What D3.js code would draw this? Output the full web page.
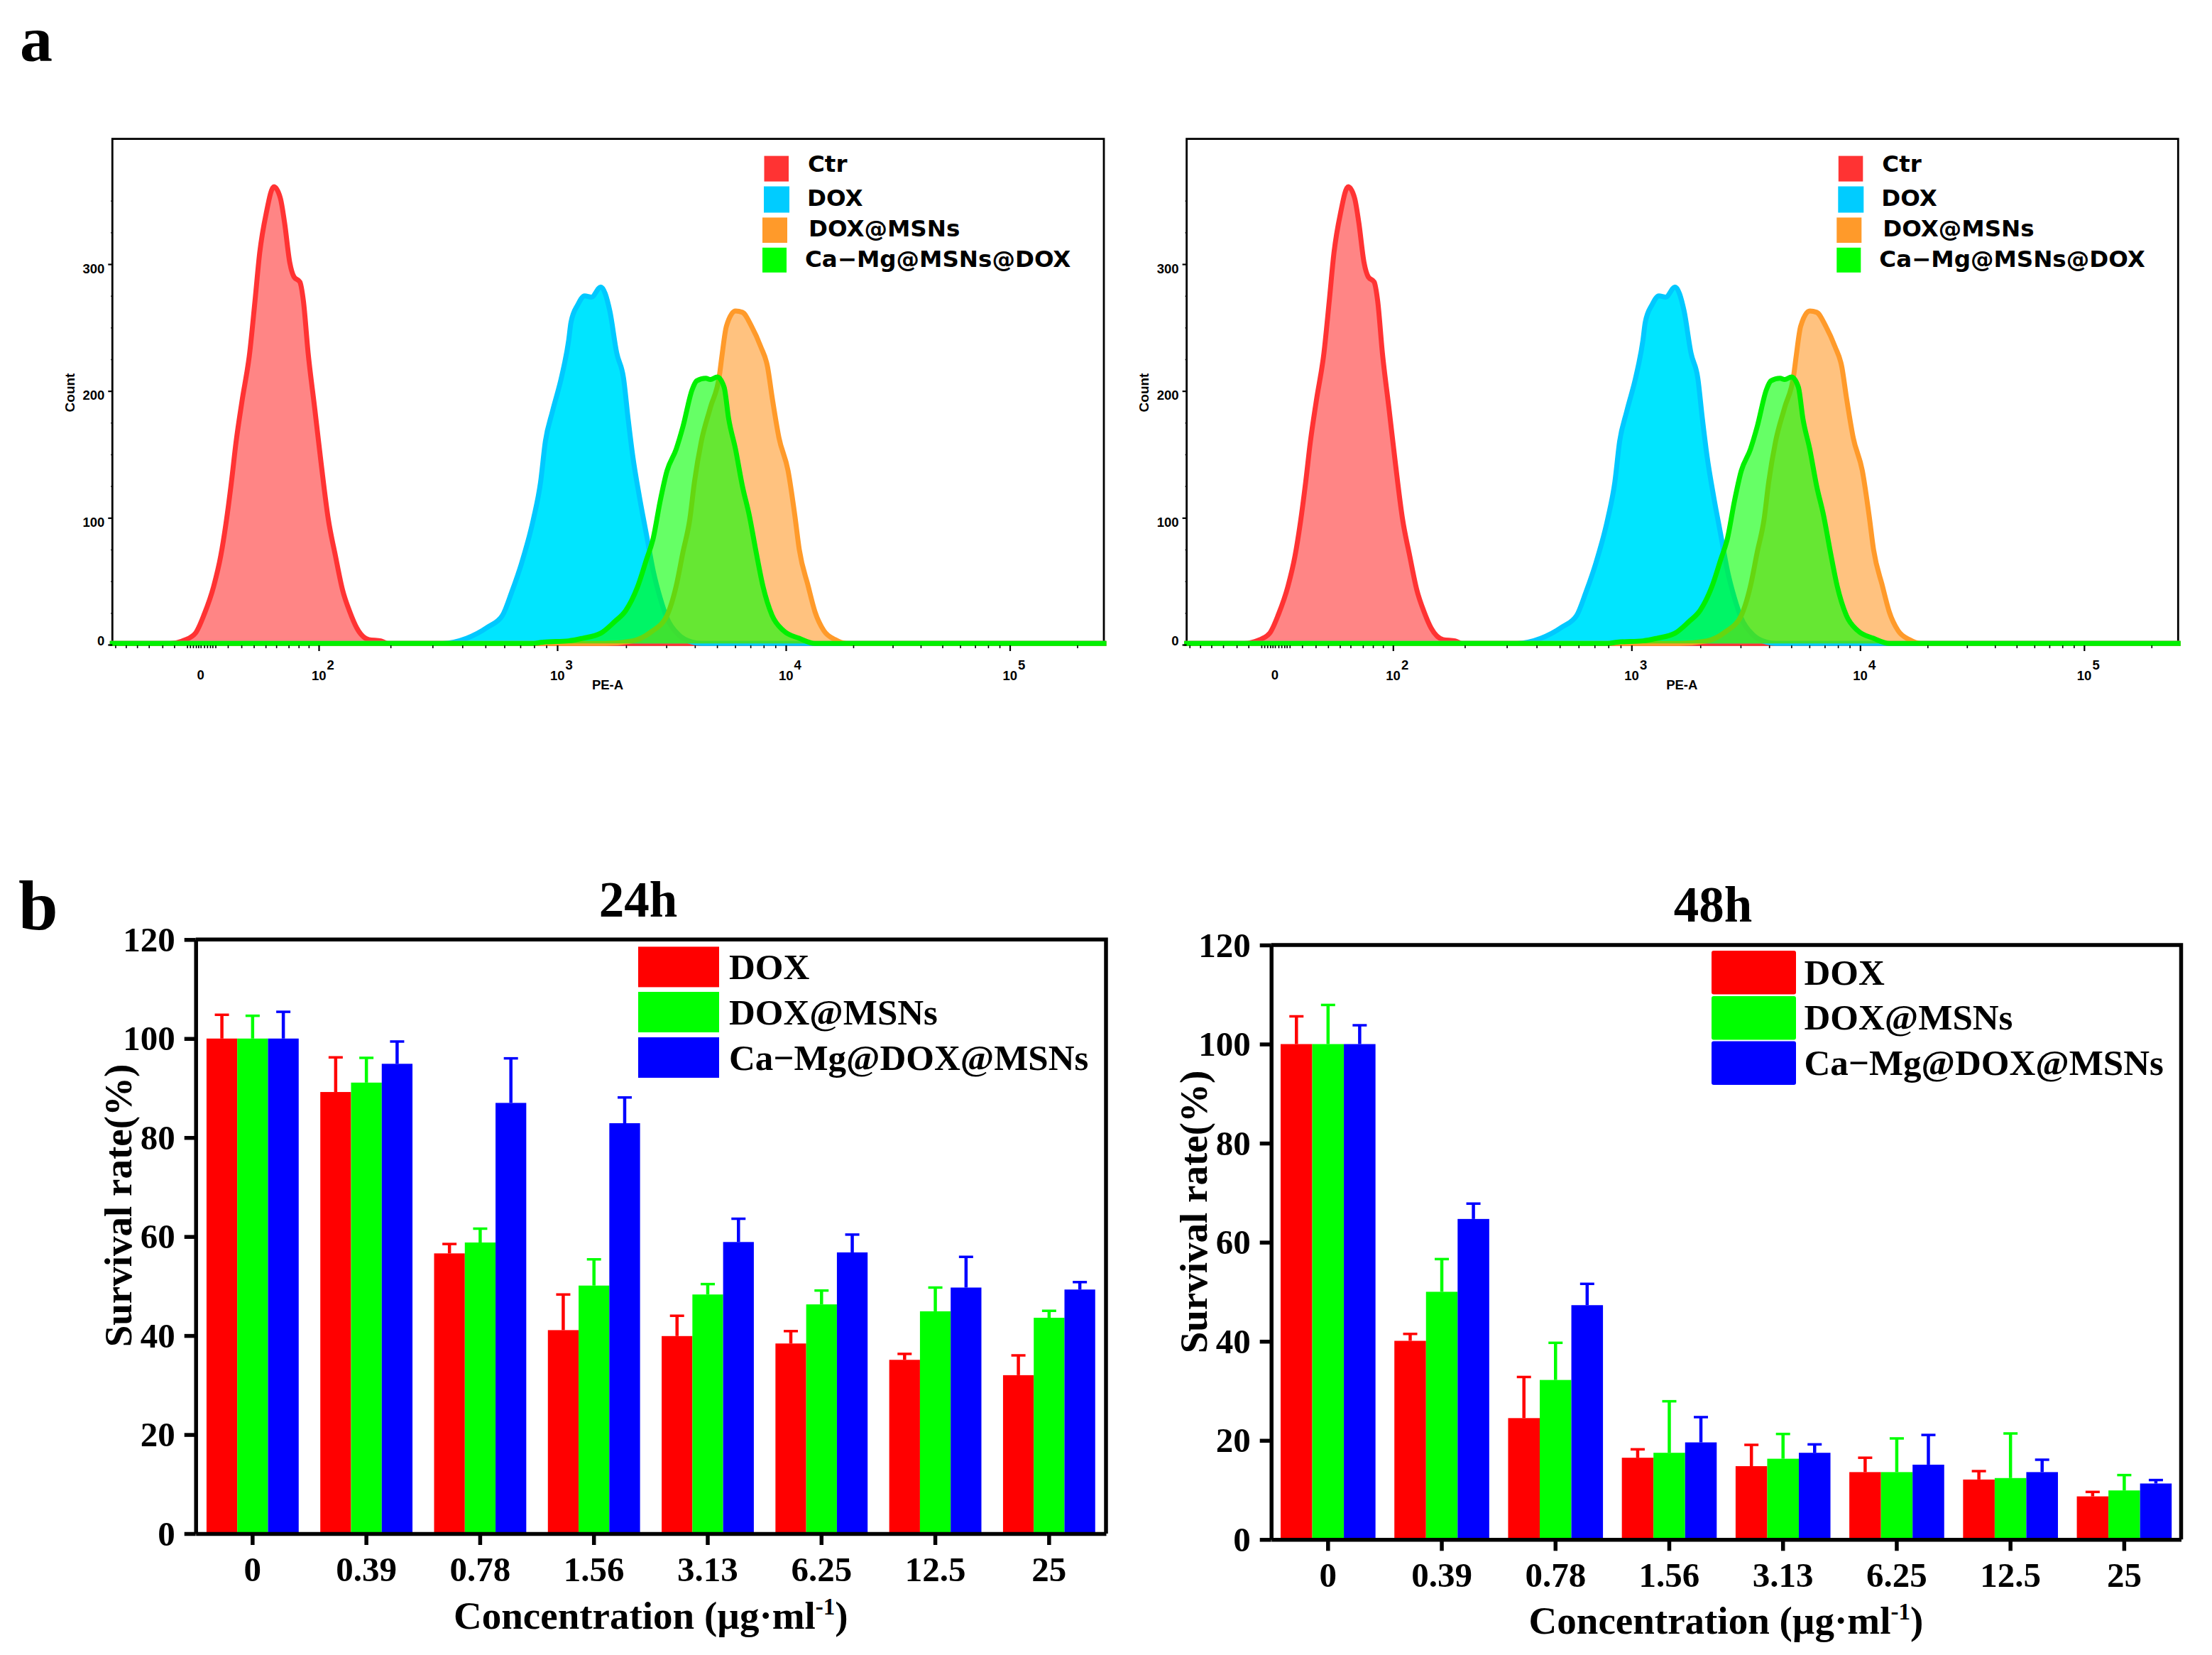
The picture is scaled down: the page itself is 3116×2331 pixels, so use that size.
<!DOCTYPE html>
<html>
<head>
<meta charset="utf-8">
<script src="https://cdn.jsdelivr.net/npm/d3@7"></script>
<style>
    html, body { margin: 0; padding: 0; background: #fff; }
    svg { display: block; }
</style>
</head>
<body>
<svg id="chart" width="3116" height="2331"></svg>
<script>
// flow histograms: [log10 PE-A, count]
const ctrCurve = [[-1.5,1],[-0.52,1],[-0.28,3.5],[-0.09,9],[0.06,24],[0.22,46],[0.34,70],[0.43,96],[0.52,128],[0.6,160],[0.7,192],[0.83,230],[0.92,271],[1,309],[1.11,340],[1.24,361],[1.35,352],[1.42,333],[1.51,301],[1.58,290],[1.68,286],[1.74,271],[1.82,230],[1.93,187],[2.01,143],[2.04,99],[2.07,70],[2.1,43],[2.13,26],[2.16,13],[2.21,4],[2.26,3],[2.29,1],[5.42,1]];
const doxCurve = [[-1.5,1],[2.52,1],[2.62,5],[2.71,14],[2.77,23],[2.81,42],[2.85,64],[2.9,99],[2.93,128],[2.95,160],[2.98,184],[3.02,212],[3.05,240],[3.06,254],[3.09,268],[3.12,275],[3.15,274],[3.19,282],[3.23,263],[3.26,230],[3.29,210],[3.31,178],[3.33,149],[3.36,116],[3.39,87],[3.42,58],[3.45,37],[3.48,21],[3.53,8],[3.59,2],[3.63,1],[5.42,1]];
const msnCurve = [[-1.5,1],[3.21,1],[3.33,3],[3.41,10],[3.48,23],[3.52,46],[3.55,73],[3.58,99],[3.6,128],[3.63,160],[3.67,187],[3.71,213],[3.72,227],[3.74,251],[3.78,263],[3.81,262],[3.85,251],[3.89,235],[3.92,219],[3.94,195],[3.97,163],[4.01,137],[4.04,102],[4.06,75],[4.1,46],[4.13,26],[4.17,11],[4.22,4],[4.27,1],[5.42,1]];
const caMgCurve = [[-1.5,1],[2.9,1],[2.94,2],[3.05,3],[3.11,5],[3.19,9],[3.25,18],[3.3,27],[3.35,45],[3.39,67],[3.42,84],[3.45,113],[3.48,137],[3.52,154],[3.55,172],[3.59,201],[3.61,208],[3.65,210],[3.67,209],[3.7,211],[3.73,203],[3.75,178],[3.78,154],[3.81,125],[3.84,102],[3.87,73],[3.9,46],[3.94,23],[3.99,11],[4.06,5],[4.13,1],[5.42,1]];
const countTicks = [0, 100, 200, 300];
const countMinorTicks = [25, 50, 75, 125, 150, 175, 225, 250, 275, 325, 350];
const peDecades = [2, 3, 4, 5];
const peLowTicks = [-1.45,-1.27,-1.08,-0.88,-0.65,-0.45,-0.23,-0.18,-0.13,-0.08,-0.04,0,0.06,0.11,0.16,0.2,0.25,0.46,0.69,0.9,1.1,1.28,1.49,1.66,1.83];

// viability bars
const concentrations = ['0', '0.39', '0.78', '1.56', '3.13', '6.25', '12.5', '25'];
const survivalTicks = [0, 20, 40, 60, 80, 100, 120];
const barSeriesNames = ['DOX', 'DOX@MSNs', 'Ca\u2212Mg@DOX@MSNs'];
const barColors = ['#ff0000', '#00ff00', '#0000ff'];

const dox24 = [100, 89.2, 56.6, 41.1, 39.9, 38.4, 35.1, 32.0];
const dox24Top = [104.8, 96.2, 58.5, 48.3, 44.0, 40.9, 36.3, 36.0];
const msn24 = [100, 91.1, 58.8, 50.1, 48.3, 46.3, 44.9, 43.6];
const msn24Top = [104.6, 96.1, 61.6, 55.4, 50.4, 49.1, 49.7, 45.0];
const caMg24 = [100, 94.9, 87.0, 82.9, 58.9, 56.8, 49.7, 49.3];
const caMg24Top = [105.4, 99.4, 96.0, 88.1, 63.6, 60.4, 55.9, 50.8];

const dox48 = [100, 40.1, 24.5, 16.5, 14.8, 13.6, 12.1, 8.7];
const dox48Top = [105.6, 41.5, 32.8, 18.2, 19.1, 16.5, 13.8, 9.6];
const msn48 = [100, 50.0, 32.2, 17.5, 16.3, 13.6, 12.4, 9.9];
const msn48Top = [107.9, 56.6, 39.7, 27.9, 21.3, 20.4, 21.4, 13.0];
const caMg48 = [100, 64.7, 47.3, 19.6, 17.5, 15.1, 13.6, 11.3];
const caMg48Top = [103.8, 67.8, 51.6, 24.7, 19.2, 21.1, 16.1, 12.0];

const SANS = '"Liberation Sans", Arial, sans-serif';
const SERIF = '"Liberation Serif", "Times New Roman", serif';
const svg = d3.select('#chart');

function drawHistogram(offsetX) {
    const g = svg.append('g').attr('transform', `translate(${offsetX},0)`);

    // logicle-like axis, piecewise between the decade labels
    const x = d3.scaleLinear()
        .domain([-1.5, 0, 2, 3, 4, 5, 5.42])
        .range([158.3, 282.7, 449, 785, 1107, 1422.5, 1555]);
    const y = d3.scaleLinear().domain([0, 300]).range([908, 372]);

    g.append('rect')
        .attr('x', 158.3).attr('y', 195.6)
        .attr('width', 1555 - 158.3).attr('height', 908 - 195.6)
        .attr('fill', 'none').attr('stroke', '#000').attr('stroke-width', 2.8);

    const series = [
        { curve: ctrCurve, fill: '#ff3333', opacity: 0.6, stroke: '#ff3333' },
        { curve: doxCurve, fill: '#00e5ff', opacity: 1, stroke: '#00c8ff' },
        { curve: msnCurve, fill: '#ff9a2a', opacity: 0.6, stroke: '#ff9a2a' },
        { curve: caMgCurve, fill: '#00ff00', opacity: 0.6, stroke: '#00f000' }
    ];
    const area = d3.area().x(d => x(d[0])).y0(y(1)).y1(d => y(d[1])).curve(d3.curveMonotoneX);
    const line = d3.line().x(d => x(d[0])).y(d => y(d[1])).curve(d3.curveMonotoneX);

    series.forEach(s => {
        g.append('path').attr('d', area(s.curve))
            .attr('fill', s.fill).attr('fill-opacity', s.opacity);
        g.append('path').attr('d', line(s.curve))
            .attr('fill', 'none').attr('stroke', s.stroke)
            .attr('stroke-width', 7).attr('stroke-linejoin', 'round')
            .attr('stroke-linecap', 'square');
    });

    // y axis
    const yMinor = g.append('g').attr('transform', 'translate(158.3,0)')
        .call(d3.axisLeft(y).tickValues(countMinorTicks).tickSize(2).tickFormat(''));
    yMinor.select('.domain').remove();
    yMinor.selectAll('line').attr('stroke-width', 1.5);

    const yAxis = g.append('g').attr('transform', 'translate(158.3,0)')
        .call(d3.axisLeft(y).tickValues(countTicks).tickSize(6));
    yAxis.select('.domain').remove();
    yAxis.selectAll('line').attr('stroke-width', 2.2);
    yAxis.selectAll('text')
        .attr('x', -11).attr('dy', 0)
        .attr('y', d => d === 0 ? 0 : 12)
        .attr('font-family', SANS).attr('font-weight', 'bold').attr('font-size', 18.5);

    g.append('text')
        .attr('transform', 'translate(105,553) rotate(-90)')
        .attr('text-anchor', 'middle')
        .attr('font-family', SANS).attr('font-weight', 'bold').attr('font-size', 19)
        .text('Count');

    // x axis
    const decadeMinor = [];
    peDecades.forEach(d => {
        d3.range(2, 10).forEach(k => {
            const v = d + Math.log10(k);
            if (v < 5.42) decadeMinor.push(v);
        });
    });
    const xMinor = g.append('g').attr('transform', 'translate(0,909)')
        .call(d3.axisBottom(x).tickValues(peLowTicks.concat(decadeMinor)).tickSize(4).tickFormat(''));
    xMinor.select('.domain').remove();
    xMinor.selectAll('line').attr('stroke-width', 1.6);

    const xMajor = g.append('g').attr('transform', 'translate(0,909)')
        .call(d3.axisBottom(x).tickValues(peDecades).tickSize(8).tickFormat(''));
    xMajor.select('.domain').remove();
    xMajor.selectAll('line').attr('stroke-width', 2.2);

    const labelStyle = sel => sel
        .attr('font-family', SANS).attr('font-weight', 'bold').attr('font-size', 18.5);

    g.append('text').attr('x', x(0)).attr('y', 956.7)
        .attr('text-anchor', 'middle').call(labelStyle).text('0');
    peDecades.forEach(d => {
        const t = g.append('text').attr('x', x(d) - 10).attr('y', 957.6).call(labelStyle);
        t.append('tspan').text('10');
        t.append('tspan').attr('dx', 1).attr('dy', -14.5).text(d);
    });
    g.append('text').attr('x', 856).attr('y', 970.7)
        .attr('text-anchor', 'middle').call(labelStyle).text('PE-A');

    // legend
    const legendSwatches = [
        { x: 1076.5, y: 219.6, w: 34.5, h: 36, color: '#ff3333', tx: 1138, ty: 241.6, label: 'Ctr' },
        { x: 1076, y: 262.5, w: 36, h: 37, color: '#00ccff', tx: 1137, ty: 289.7, label: 'DOX' },
        { x: 1074, y: 306.4, w: 35, h: 35.6, color: '#ff9a2a', tx: 1139, ty: 332.6, label: 'DOX@MSNs' },
        { x: 1074, y: 348.8, w: 34, h: 35, color: '#00ff00', tx: 1134, ty: 375.5, label: 'Ca\u2212Mg@MSNs@DOX' }
    ];
    legendSwatches.forEach(l => {
        g.append('rect').attr('x', l.x).attr('y', l.y)
            .attr('width', l.w).attr('height', l.h).attr('fill', l.color);
        g.append('text').attr('x', l.tx).attr('y', l.ty)
            .attr('font-family', '"DejaVu Sans", sans-serif')
            .attr('font-weight', 'bold').attr('font-size', 32.5)
            .text(l.label);
    });
}

function drawBars(cfg) {
    const g = svg.append('g');
    const x = d3.scaleBand().domain(concentrations).range(cfg.xRange).paddingInner(cfg.padding).paddingOuter(cfg.padding / 2);
    const x1 = d3.scaleBand().domain(d3.range(3)).range([0, x.bandwidth()]);
    const y = d3.scaleLinear().domain([0, 120]).range(cfg.yRange);
    const [left, right] = cfg.xRange;

    cfg.means.forEach((values, s) => {
        const color = barColors[s];
        const sg = g.append('g');
        sg.selectAll('rect').data(values).enter().append('rect')
            .attr('x', (d, i) => x(concentrations[i]) + x1(s))
            .attr('y', d => y(d))
            .attr('width', x1.bandwidth())
            .attr('height', d => y(0) - y(d))
            .attr('fill', color);

        // error bars, upper side only
        cfg.tops[s].forEach((top, i) => {
            const cx = x(concentrations[i]) + x1(s) + x1.bandwidth() / 2;
            sg.append('line').attr('x1', cx).attr('x2', cx)
                .attr('y1', y(values[i])).attr('y2', y(top))
                .attr('stroke', color).attr('stroke-width', 4.5);
            sg.append('line').attr('x1', cx - 10).attr('x2', cx + 10)
                .attr('y1', y(top)).attr('y2', y(top))
                .attr('stroke', color).attr('stroke-width', 3.5);
        });
    });

    // frame
    g.append('path')
        .attr('d', `M${left},${y(120)}H${right}V${y(0)}`)
        .attr('fill', 'none').attr('stroke', '#000').attr('stroke-width', 5.5);

    const yAxis = g.append('g').attr('transform', `translate(${left},0)`)
        .call(d3.axisLeft(y).tickValues(survivalTicks).tickSize(16).tickSizeOuter(0));
    const xAxis = g.append('g').attr('transform', `translate(0,${y(0)})`)
        .call(d3.axisBottom(x).tickSize(16).tickSizeOuter(0));
    [yAxis, xAxis].forEach(a => {
        a.select('.domain').attr('stroke-width', 5.5);
        a.selectAll('line').attr('stroke-width', 5.5);
        a.selectAll('text')
            .attr('font-family', SERIF).attr('font-weight', 'bold').attr('font-size', 49);
    });
    yAxis.selectAll('text').attr('x', -29).attr('dy', '0.33em');
    xAxis.selectAll('text').attr('y', 67).attr('dy', 0);

    const axisText = sel => sel
        .attr('font-family', SERIF).attr('font-weight', 'bold');

    g.append('text').attr('x', cfg.titleX).attr('y', cfg.titleY)
        .attr('text-anchor', 'middle').call(axisText).attr('font-size', 71)
        .text(cfg.title);

    g.append('text')
        .attr('transform', `translate(${cfg.yLabelX},${cfg.yLabelY}) rotate(-90)`)
        .attr('text-anchor', 'middle').call(axisText).attr('font-size', 55)
        .text('Survival rate(%)');

    const xLabel = g.append('text').attr('x', cfg.xLabelX).attr('y', cfg.xLabelY)
        .call(axisText).attr('font-size', 55);
    xLabel.append('tspan').text('Concentration (\u00b5g\u00b7ml');
    xLabel.append('tspan').attr('dy', -20).attr('font-size', 33).text('-1');
    xLabel.append('tspan').attr('dy', 20).text(')');

    barSeriesNames.forEach((name, i) => {
        g.append('rect')
            .attr('x', cfg.legendX).attr('y', cfg.legendYs[i])
            .attr('width', cfg.legendW).attr('height', cfg.legendH)
            .attr('rx', cfg.legendR)
            .attr('fill', barColors[i]);
        g.append('text')
            .attr('x', cfg.legendTextX).attr('y', cfg.legendBase[i])
            .call(axisText).attr('font-size', 51)
            .text(name);
    });
}

drawHistogram(0);
drawHistogram(1513.3);

drawBars({
    title: '24h', titleX: 899, titleY: 1291,
    means: [dox24, msn24, caMg24], tops: [dox24Top, msn24Top, caMg24Top],
    xRange: [275.7, 1558], yRange: [2160, 1323.3], padding: 0.19,
    yLabelX: 185, yLabelY: 1698, xLabelX: 639, xLabelY: 2294,
    legendX: 899, legendW: 114, legendH: 57, legendR: 0,
    legendYs: [1333.4, 1397, 1461], legendTextX: 1027, legendBase: [1379, 1443, 1507]
});

drawBars({
    title: '48h', titleX: 2413, titleY: 1298,
    means: [dox48, msn48, caMg48], tops: [dox48Top, msn48Top, caMg48Top],
    xRange: [1790.7, 3072.5], yRange: [2168.3, 1331], padding: 0.166,
    yLabelX: 1699.5, yLabelY: 1707, xLabelX: 2153.6, xLabelY: 2301,
    legendX: 2411, legendW: 119, legendH: 61.5, legendR: 3,
    legendYs: [1339, 1403, 1466.6], legendTextX: 2541.5, legendBase: [1386.5, 1450, 1514]
});

// panel letters
svg.append('text').attr('x', 28).attr('y', 86)
    .attr('font-family', SERIF).attr('font-weight', 'bold').attr('font-size', 92).text('a');
svg.append('text').attr('x', 26).attr('y', 1309)
    .attr('font-family', SERIF).attr('font-weight', 'bold').attr('font-size', 100).text('b');
</script>
</body>
</html>
